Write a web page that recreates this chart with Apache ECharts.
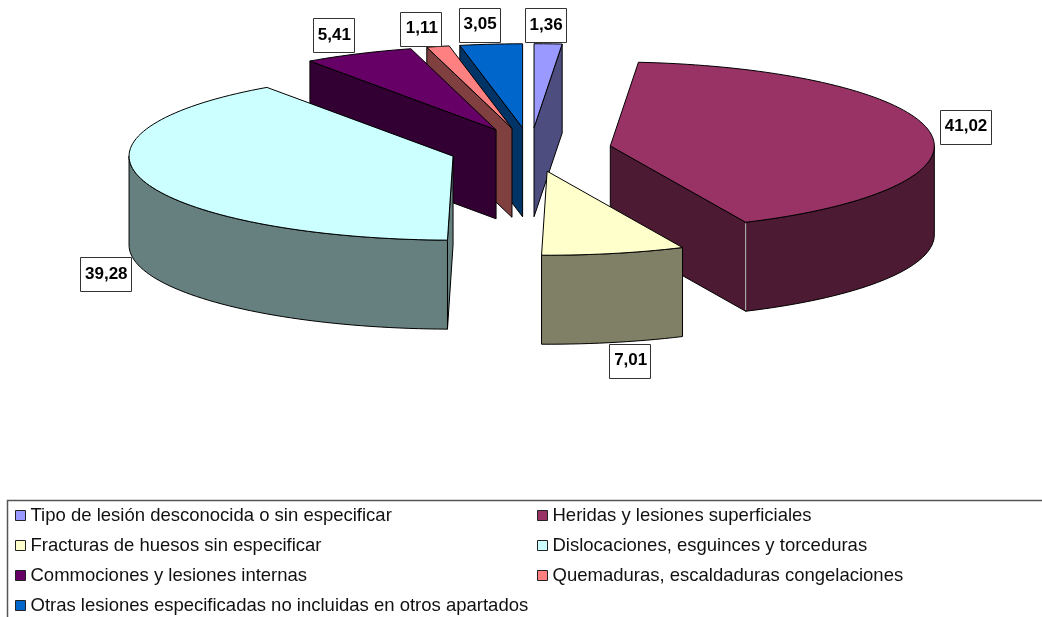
<!DOCTYPE html>
<html>
<head>
<meta charset="utf-8">
<style>html,body{margin:0;padding:0;background:#fff}#c{width:1042px;height:617px}</style>
<script src="https://cdn.jsdelivr.net/npm/echarts@6/dist/echarts.min.js"></script>
</head>
<body>
<div id="c"></div>
<script>
// Data
const categories = [
  'Tipo de lesión desconocida o sin especificar',
  'Heridas y lesiones superficiales',
  'Fracturas de huesos sin especificar',
  'Dislocaciones, esguinces y torceduras',
  'Commociones y lesiones internas',
  'Quemaduras, escaldaduras congelaciones',
  'Otras lesiones especificadas no incluidas en otros apartados'
];
const values = [1.36, 41.02, 7.01, 39.28, 5.41, 1.11, 3.05];
const valueLabels = ['1,36', '41,02', '7,01', '39,28', '5,41', '1,11', '3,05'];

// Styles
const topColors  = ['#9999FF', '#993366', '#FFFFCC', '#CCFFFF', '#660066', '#FF8080', '#0066CC'];
const wallColors = ['#4D4D80', '#4D1A33', '#808066', '#668080', '#330033', '#804040', '#003366'];
const drawOrder  = [6, 5, 4, 0, 1, 3, 2];

// Projection of the tilted, exploded pie
const cx = 530.5, cy = 149.7, rx = 324, ry = 84, depth = 89, ex = 81, ey = 22;
// Offset of each label box centre from the rim at the slice's mid angle
const labelOffsets = [[-3, -18.7], [35.5, -5], [16, 107.3], [-38, 93.3], [-25, -18.7], [-17, -17.7], [-12, -19.7]];
const boxH = 34;
const boxW = [41, 51, 41, 51, 41, 41, 41];

const total = values.reduce((a, b) => a + b, 0);
const bounds = [];
values.reduce((acc, v) => { bounds.push([acc / total * 2 * Math.PI, (acc + v) / total * 2 * Math.PI]); return acc + v; }, 0);

const line = { stroke: '#000', lineWidth: 1 };

function rimArc(o, a, b, dy) {
  const n = Math.max(2, Math.ceil(Math.abs(b - a) / 0.03));
  const pts = [];
  for (let i = 0; i <= n; i++) {
    const t = a + (b - a) * i / n;
    pts.push([o[0] + rx * Math.sin(t), o[1] - ry * Math.cos(t) + dy]);
  }
  return pts;
}

function renderSlice(params, api) {
  const i = params.seriesIndex;
  const [a, b] = bounds[i];
  const mid = (a + b) / 2;
  const o = [cx + ex * Math.sin(mid), cy - ey * Math.cos(mid)];
  const wall = wallColors[i];
  const children = [];
  const poly = (pts, fill) => children.push({
    type: 'polygon', shape: { points: pts }, style: Object.assign({ fill }, line)
  });
  const radial = t => {
    const p = [o[0] + rx * Math.sin(t), o[1] - ry * Math.cos(t)];
    poly([o, p, [p[0], p[1] + depth], [o[0], o[1] + depth]], wall);
  };
  if (Math.sin(a) < -1e-6) radial(a);
  if (Math.sin(b) > 1e-6) radial(b);

  const w0 = Math.max(a, Math.PI / 2), w1 = Math.min(b, 1.5 * Math.PI);
  if (w1 > w0) {
    const upper = rimArc(o, w0, w1, 0);
    const lower = rimArc(o, w0, w1, depth).reverse();
    poly(upper.concat(lower), wall);
  }
  // Light seam where a cut face meets the outer wall on the right side
  if (Math.sin(b) > 1e-6 && Math.cos(b) < 0) {
    const x = o[0] + rx * Math.sin(b), y = o[1] - ry * Math.cos(b);
    children.push({ type: 'line', shape: { x1: x, y1: y + 1, x2: x, y2: y + depth - 1 },
      style: { stroke: '#c8c8c8', lineWidth: 1 } });
  }
  poly([o].concat(rimArc(o, a, b, 0)), topColors[i]);

  // Value label
  const off = labelOffsets[i];
  const lx = o[0] + rx * Math.sin(mid) + off[0];
  const ly = o[1] - ry * Math.cos(mid) + off[1];
  children.push({
    type: 'rect',
    shape: { x: Math.round(lx - boxW[i] / 2) + 0.5, y: Math.round(ly - boxH / 2) + 0.5, width: boxW[i], height: boxH },
    style: { fill: '#fff', stroke: '#333', lineWidth: 1 },
    z2: 50
  });
  children.push({
    type: 'text',
    style: { x: lx + 1, y: ly, text: valueLabels[i], fill: '#000', align: 'center', verticalAlign: 'middle',
      font: 'bold 17px "Liberation Sans", Arial, sans-serif' },
    z2: 51
  });
  return { type: 'group', children };
}

const legendPos = [[15, 506], [537, 506], [15, 536], [537, 536], [15, 566], [537, 566], [15, 596]];

const chart = echarts.init(document.getElementById('c'), null, { renderer: 'canvas' });
chart.setOption({
  animation: false,
  backgroundColor: '#fff',
  legend: categories.map((name, i) => ({
    data: [name],
    left: legendPos[i][0],
    top: legendPos[i][1],
    padding: 0,
    icon: 'rect',
    itemWidth: 10,
    itemHeight: 10,
    selectedMode: false,
    itemStyle: { color: topColors[i], borderColor: '#222', borderWidth: 1 },
    textStyle: { color: '#111', fontFamily: '"Liberation Sans", Arial, sans-serif', fontSize: 18.5 }
  })),
  graphic: [{
    type: 'polyline',
    shape: { points: [[7.5, 617], [7.5, 500.5], [1042, 500.5]] },
    style: { stroke: '#555', lineWidth: 1.5, fill: null },
    silent: true
  }],
  series: categories.map((name, i) => ({
    type: 'custom',
    name,
    coordinateSystem: 'none',
    data: [values[i]],
    z: 2 + drawOrder.indexOf(i),
    silent: true,
    itemStyle: { color: topColors[i] },
    renderItem: renderSlice
  }))
});
</script>
</body>
</html>
